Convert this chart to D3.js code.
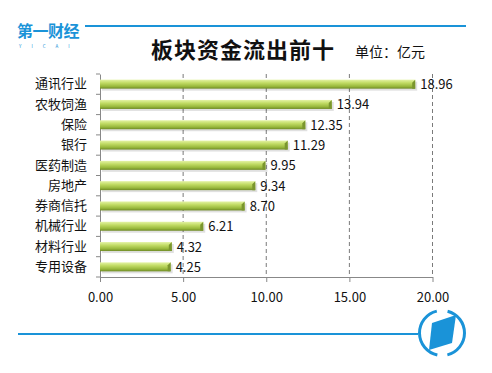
<!DOCTYPE html>
<head>
  <meta charset="utf-8">
  <script src="https://cdn.jsdelivr.net/npm/d3@7"></script>
  <style>
    body { margin:0; background:#fff; }
    text { font-family: "Noto Sans CJK SC", "Noto Sans", sans-serif; }
  </style>
</head>
<body>
<script>
var categories = ["通讯行业", "农牧饲渔", "保险", "银行", "医药制造", "房地产", "券商信托", "机械行业", "材料行业", "专用设备"];
var values = [18.96, 13.94, 12.35, 11.29, 9.95, 9.34, 8.70, 6.21, 4.32, 4.25];
var ticks = [0, 5, 10, 15, 20];

var width = 492, height = 373;
var blue = "#1a93d8";

var svg = d3.select("body").append("svg")
    .attr("width", width)
    .attr("height", height);

var defs = svg.append("defs");
var grad = defs.append("linearGradient")
    .attr("id", "bar")
    .attr("x1", 0).attr("y1", 0).attr("x2", 0).attr("y2", 1);
grad.append("stop").attr("offset", "0%").attr("stop-color", "#e4f3a6");
grad.append("stop").attr("offset", "35%").attr("stop-color", "#c2dc66");
grad.append("stop").attr("offset", "75%").attr("stop-color", "#98b83c");
grad.append("stop").attr("offset", "100%").attr("stop-color", "#6f8a26");

var x = d3.scaleLinear().domain([0, 20]).range([100, 432.5]);
var y = d3.scaleBand().domain(categories).range([74, 277]);

// top rule + logo
svg.append("line").attr("x1", 85).attr("x2", 466).attr("y1", 26).attr("y2", 26)
    .attr("stroke", blue).attr("stroke-width", 2);
svg.append("text").attr("x", 17).attr("y", 37)
    .attr("fill", blue).attr("font-size", 16).attr("font-weight", "bold")
    .attr("letter-spacing", -0.5)
    .text("第一财经");
svg.append("text").attr("x", 19).attr("y", 48)
    .attr("fill", blue).attr("font-size", 4.5).attr("letter-spacing", 10)
    .attr("font-family", "DejaVu Sans")
    .text("YICAI");

// title
svg.append("text").attr("x", 243).attr("y", 58)
    .attr("text-anchor", "middle")
    .attr("font-size", 22).attr("font-weight", "bold").attr("fill", "#111")
    .attr("letter-spacing", 1)
    .text("板块资金流出前十");
svg.append("text").attr("x", 355).attr("y", 57)
    .attr("font-size", 14).attr("fill", "#111")
    .text("单位：亿元");

// grid
svg.selectAll(".grid")
    .data(ticks.slice(1))
    .enter().append("line")
    .attr("x1", d => x(d)).attr("x2", d => x(d))
    .attr("y1", 74).attr("y2", 277)
    .attr("stroke", "#7a7a7a").attr("stroke-dasharray", "4,3");

// x axis
var xAxis = svg.append("g").attr("transform", "translate(0,277)")
    .call(d3.axisBottom(x).tickValues(ticks).tickSize(5).tickSizeOuter(0)
        .tickFormat(d3.format(".2f")));
xAxis.select(".domain").attr("stroke", "#888");
xAxis.selectAll(".tick line").attr("stroke", "#888");
xAxis.selectAll("text").attr("font-size", 13).attr("fill", "#111").attr("dy", "1.3em")
    .attr("font-family", "'Open Sans', 'Noto Sans', sans-serif");

// y axis
var yAxis = svg.append("g").attr("transform", "translate(100,0)")
    .call(d3.axisLeft(y).tickSize(0).tickPadding(13));
yAxis.select(".domain").attr("stroke", "#888");
yAxis.selectAll("text").attr("font-size", 13).attr("fill", "#111");
svg.selectAll(".ytick")
    .data(categories.concat(["end"]))
    .enter().append("line")
    .attr("x1", 96).attr("x2", 100)
    .attr("y1", (d, i) => i < categories.length ? y(d) : 277)
    .attr("y2", (d, i) => i < categories.length ? y(d) : 277)
    .attr("stroke", "#888");

// bars
var bh = 9;
var bars = svg.selectAll(".bar")
    .data(values)
    .enter().append("g");

bars.append("rect")
    .attr("x", x(0) + 2)
    .attr("y", (d, i) => y(categories[i]) + y.bandwidth() / 2 - bh / 2 + 2)
    .attr("width", d => x(d) - x(0))
    .attr("height", bh)
    .attr("fill", "#000").attr("opacity", 0.12);

bars.append("rect")
    .attr("x", x(0))
    .attr("y", (d, i) => y(categories[i]) + y.bandwidth() / 2 - bh / 2)
    .attr("width", d => x(d) - x(0))
    .attr("height", bh)
    .attr("fill", "url(#bar)");

bars.append("path")
    .attr("d", (d, i) => {
        var x1 = x(d), y0 = y(categories[i]) + y.bandwidth() / 2 - bh / 2;
        return "M" + (x1 - 3) + "," + (y0 + 3) + "L" + x1 + "," + y0 + "L" + x1 + "," + (y0 + bh) +
            "L" + (x1 - 3) + "," + (y0 + bh) + "Z";
    })
    .attr("fill", "#7a962e");

bars.append("text")
    .attr("x", d => x(d) + 5)
    .attr("y", (d, i) => y(categories[i]) + y.bandwidth() / 2 + 5)
    .attr("font-size", 13).attr("fill", "#111")
    .attr("font-family", "'Open Sans', 'Noto Sans', sans-serif")
    .text(d => d.toFixed(2));

// bottom rule + emblem
svg.append("line").attr("x1", 18).attr("x2", 418).attr("y1", 334).attr("y2", 334)
    .attr("stroke", blue).attr("stroke-width", 2);
var arc = d3.arc().innerRadius(21).outerRadius(24);
var emblem = svg.append("g").attr("transform", "translate(442,333)");
[[0.25, 2.9], [3.35, 6.05]].forEach(function(a) {
    emblem.append("path").attr("d", arc({startAngle: a[0], endAngle: a[1]})).attr("fill", blue);
});
emblem.append("path")
    .attr("d", "M-10,-10 L14,-18 L10,10 L-13,17 Z")
    .attr("fill", blue);
</script>
</body>
